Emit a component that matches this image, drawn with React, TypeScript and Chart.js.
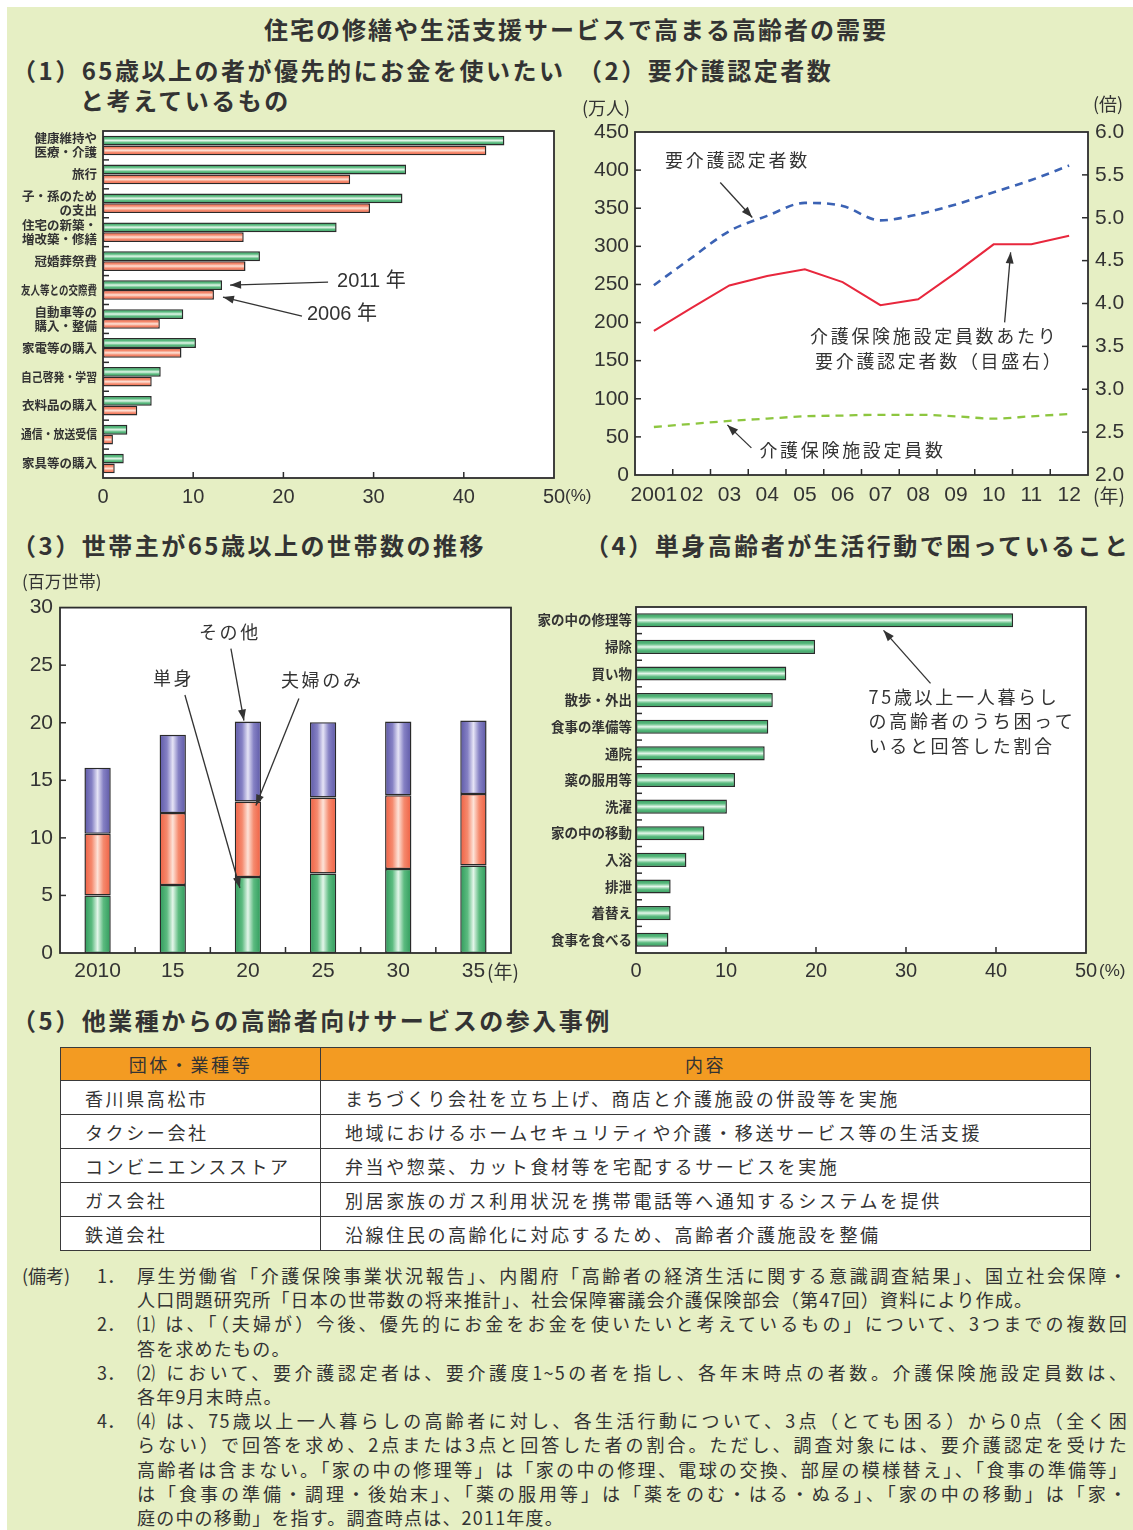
import React, { useEffect, useRef } from "react";
import { Chart, registerables } from "chart.js";
Chart.register(...registerables);

const BG = "#e6efc4";
const INK = "#333333";
const NUM = "'Liberation Sans', 'Noto Sans CJK JP', sans-serif";
const JP = "'Noto Sans CJK JP', sans-serif";

// ---------- (1) ----------
const p1Categories: (string | string[])[] = [
  ["健康維持や", "医療・介護"], "旅行", ["子・孫のため", "の支出"], ["住宅の新築・", "増改築・修繕"],
  "冠婚葬祭費", "友人等との交際費", ["自動車等の", "購入・整備"], "家電等の購入",
  "自己啓発・学習", "衣料品の購入", "通信・放送受信", "家具等の購入",
];
const p1Values2011 = [44.5, 33.6, 33.2, 25.9, 17.4, 13.2, 8.9, 10.3, 6.4, 5.4, 2.7, 2.3];
const p1Values2006 = [42.5, 27.4, 29.6, 15.6, 15.8, 12.3, 6.3, 8.7, 5.4, 3.8, 1.1, 1.3];

// ---------- (2) ----------
const p2Years = ["2001", "02", "03", "04", "05", "06", "07", "08", "09", "10", "11", "12"];
const p2Certified = [249, 285, 320, 340, 357, 353, 334, 342, 355, 371, 387, 406];
const p2Capacity = [63, 67, 71, 74, 77, 78, 79, 79, 77, 74, 77, 80];
const p2Ratio = [3.68, 3.95, 4.21, 4.32, 4.4, 4.25, 3.98, 4.05, 4.36, 4.69, 4.69, 4.79];

// ---------- (3) ----------
const p3Years = ["2010", "15", "20", "25", "30", "35"];
const p3Single = [5.0, 5.9, 6.6, 6.9, 7.3, 7.6];
const p3Couple = [5.35, 6.25, 6.55, 6.6, 6.4, 6.2];
const p3Other = [5.75, 6.8, 6.95, 6.55, 6.4, 6.4];

// ---------- (4) ----------
const p4Categories = [
  "家の中の修理等", "掃除", "買い物", "散歩・外出", "食事の準備等", "通院", "薬の服用等",
  "洗濯", "家の中の移動", "入浴", "排泄", "着替え", "食事を食べる",
];
const p4Values = [41.9, 19.9, 16.7, 15.2, 14.7, 14.3, 11.0, 10.1, 7.6, 5.6, 3.85, 3.85, 3.6];

// ---------- (5) ----------
const tableHeader = ["団体・業種等", "内容"];
const tableOrgs = ["香川県高松市", "タクシー会社", "コンビニエンスストア", "ガス会社", "鉄道会社"];
const tableContents = [
  "まちづくり会社を立ち上げ、商店と介護施設の併設等を実施",
  "地域におけるホームセキュリティや介護・移送サービス等の生活支援",
  "弁当や惣菜、カット食材等を宅配するサービスを実施",
  "別居家族のガス利用状況を携帯電話等へ通知するシステムを提供",
  "沿線住民の高齢化に対応するため、高齢者介護施設を整備",
];

// ---------- notes ----------
const noteItems: string[][] = [
  [
    "厚生労働省「介護保険事業状況報告」、内閣府「高齢者の経済生活に関する意識調査結果」、国立社会保障・",
    "人口問題研究所「日本の世帯数の将来推計」、社会保障審議会介護保険部会（第47回）資料により作成。",
  ],
  [
    "⑴ は、「（夫婦が）今後、優先的にお金をお金を使いたいと考えているもの」について、3つまでの複数回",
    "答を求めたもの。",
  ],
  [
    "⑵ において、要介護認定者は、要介護度1~5の者を指し、各年末時点の者数。介護保険施設定員数は、",
    "各年9月末時点。",
  ],
  [
    "⑷ は、75歳以上一人暮らしの高齢者に対し、各生活行動について、3点（とても困る）から0点（全く困",
    "らない）で回答を求め、2点または3点と回答した者の割合。ただし、調査対象には、要介護認定を受けた",
    "高齢者は含まない。「家の中の修理等」は「家の中の修理、電球の交換、部屋の模様替え」、「食事の準備等」",
    "は「食事の準備・調理・後始末」、「薬の服用等」は「薬をのむ・はる・ぬる」、「家の中の移動」は「家・",
    "庭の中の移動」を指す。調査時点は、2011年度。",
  ],
];

const GREEN = "#3aa865";
const RED = "#f26c4f";
const BLUE = "#6a64ae";
const GREEN_STOPS: [number, string][] = [[0, "#2f9a5b"], [0.28, "#5cbb80"], [0.5, "#e4f6ea"], [0.72, "#5cbb80"], [1, "#2f9a5b"]];
const RED_STOPS: [number, string][] = [[0, "#ef5f42"], [0.28, "#f58a6e"], [0.5, "#fde3d8"], [0.72, "#f58a6e"], [1, "#ef5f42"]];
const BLUE_STOPS: [number, string][] = [[0, "#5d58a6"], [0.28, "#8581c4"], [0.5, "#e6e4f6"], [0.72, "#8581c4"], [1, "#5d58a6"]];

type TickSpec = { scale: string; mode: "between" | "ticks"; side: "left" | "right" | "bottom" };
type CatLabels = { font: string; maxWidth: number; lineGap: number; pad: number };

function arrow(ctx: CanvasRenderingContext2D, x1: number, y1: number, x2: number, y2: number) {
  ctx.save();
  ctx.strokeStyle = "#333";
  ctx.fillStyle = "#333";
  ctx.lineWidth = 1.3;
  ctx.beginPath();
  ctx.moveTo(x1, y1);
  ctx.lineTo(x2, y2);
  ctx.stroke();
  const ang = Math.atan2(y2 - y1, x2 - x1);
  const L = 11, W = 4;
  ctx.beginPath();
  ctx.moveTo(x2, y2);
  ctx.lineTo(x2 - L * Math.cos(ang) + W * Math.sin(ang), y2 - L * Math.sin(ang) - W * Math.cos(ang));
  ctx.lineTo(x2 - L * Math.cos(ang) - W * Math.sin(ang), y2 - L * Math.sin(ang) + W * Math.cos(ang));
  ctx.closePath();
  ctx.fill();
  ctx.restore();
}

function text(ctx: CanvasRenderingContext2D, s: string, x: number, y: number, size = 18, ls = 2.7, family = JP) {
  ctx.save();
  ctx.font = `${size}px ${family}`;
  (ctx as any).letterSpacing = `${ls}px`;
  ctx.fillStyle = INK;
  ctx.textAlign = "left";
  ctx.textBaseline = "middle";
  ctx.fillText(s, x, y);
  ctx.restore();
}

function makePlugins(cfg: {
  ticks: TickSpec[];
  stops?: [number, string][][];
  catLabels?: CatLabels;
  notes?: (chart: any) => void;
}) {
  return [
    {
      id: "plotBg",
      beforeDraw(chart: any) {
        const { ctx, chartArea: a } = chart;
        ctx.save();
        ctx.fillStyle = "#ffffff";
        ctx.fillRect(a.left, a.top, a.right - a.left, a.bottom - a.top);
        ctx.restore();
      },
    },
    {
      id: "gradBars",
      afterDatasetsDraw(chart: any) {
        if (!cfg.stops) return;
        const ctx = chart.ctx;
        const horizontal = chart.options.indexAxis === "y";
        chart.data.datasets.forEach((_ds: any, di: number) => {
          const stops = cfg.stops![di];
          if (!stops) return;
          const meta = chart.getDatasetMeta(di);
          meta.data.forEach((el: any) => {
            const p = el.getProps(["x", "y", "base", "width", "height"], true);
            const bw = 1.5;
            let l, r, t, b;
            if (horizontal) {
              l = Math.min(p.base, p.x); r = Math.max(p.base, p.x);
              t = p.y - p.height / 2; b = p.y + p.height / 2;
            } else {
              l = p.x - p.width / 2; r = p.x + p.width / 2;
              t = Math.min(p.y, p.base); b = Math.max(p.y, p.base);
            }
            if (r - l <= 2 * bw || b - t <= 2 * bw) return;
            const g = horizontal ? ctx.createLinearGradient(0, t, 0, b) : ctx.createLinearGradient(l, 0, r, 0);
            stops.forEach(([o, c]) => g.addColorStop(o, c));
            ctx.save();
            ctx.fillStyle = g;
            ctx.fillRect(l + bw, t + bw, r - l - 2 * bw, b - t - 2 * bw);
            ctx.restore();
          });
        });
      },
    },
    {
      id: "decor",
      afterDraw(chart: any) {
        const { ctx, chartArea: a } = chart;
        ctx.save();
        ctx.strokeStyle = "#2d2d2d";
        ctx.lineWidth = 1.8;
        ctx.strokeRect(a.left, a.top, a.right - a.left, a.bottom - a.top);
        ctx.lineWidth = 1.5;
        const len = 6;
        cfg.ticks.forEach((t) => {
          const s = chart.scales[t.scale];
          const pos: number[] = [];
          if (t.mode === "between") {
            const n = chart.data.labels.length;
            for (let i = 1; i < n; i++) pos.push((s.getPixelForValue(i - 1) + s.getPixelForValue(i)) / 2);
          } else {
            s.ticks.forEach((tk: any) => pos.push(s.getPixelForValue(tk.value)));
          }
          pos.forEach((p) => {
            ctx.beginPath();
            if (t.side === "left") {
              if (Math.abs(p - a.top) < 2 || Math.abs(p - a.bottom) < 2) return;
              ctx.moveTo(a.left, p); ctx.lineTo(a.left + len, p);
            } else if (t.side === "right") {
              if (Math.abs(p - a.top) < 2 || Math.abs(p - a.bottom) < 2) return;
              ctx.moveTo(a.right, p); ctx.lineTo(a.right - len, p);
            } else {
              if (Math.abs(p - a.left) < 2 || Math.abs(p - a.right) < 2) return;
              ctx.moveTo(p, a.bottom); ctx.lineTo(p, a.bottom - len);
            }
            ctx.stroke();
          });
        });
        ctx.restore();
        if (cfg.catLabels) {
          const cl = cfg.catLabels;
          const ys = chart.scales.y;
          ctx.save();
          ctx.font = cl.font;
          ctx.fillStyle = INK;
          ctx.textAlign = "right";
          ctx.textBaseline = "middle";
          (chart.data.labels as any[]).forEach((lab, i) => {
            const cy = ys.getPixelForValue(i);
            const lines: string[] = Array.isArray(lab) ? lab : [lab];
            const off = ((lines.length - 1) * cl.lineGap) / 2;
            lines.forEach((ln, j) => {
              ctx.fillText(ln, a.left - cl.pad, cy - off + j * cl.lineGap, cl.maxWidth);
            });
          });
          ctx.restore();
        }
        if (cfg.notes) cfg.notes(chart);
      },
    },
  ];
}

const gridOff = { display: false, drawTicks: false };
const borderOff = { display: false };

function config1(): any {
  return {
    type: "bar",
    data: {
      labels: p1Categories,
      datasets: [
        { label: "2011年", data: p1Values2011, backgroundColor: GREEN, borderColor: "#2a2a2a", borderWidth: 1.5, borderSkipped: false, barPercentage: 1, categoryPercentage: 0.68 },
        { label: "2006年", data: p1Values2006, backgroundColor: RED, borderColor: "#2a2a2a", borderWidth: 1.5, borderSkipped: false, barPercentage: 1, categoryPercentage: 0.68 },
      ],
    },
    options: {
      indexAxis: "y",
      animation: false,
      responsive: false,
      layout: { padding: { top: 11, right: 46, left: 0, bottom: 0 } },
      plugins: { legend: { display: false }, tooltip: { enabled: false } },
      scales: {
        x: {
          min: 0, max: 50,
          ticks: { stepSize: 10, font: { family: NUM, size: 20 }, color: INK, padding: 7 },
          grid: gridOff, border: borderOff,
          afterFit: (s: any) => { s.height = 32; },
        },
        y: {
          ticks: { display: false },
          grid: gridOff, border: borderOff,
          afterFit: (s: any) => { s.width = 93; },
        },
      },
    },
    plugins: makePlugins({
      ticks: [{ scale: "y", mode: "between", side: "left" }, { scale: "x", mode: "ticks", side: "bottom" }],
      stops: [GREEN_STOPS, RED_STOPS],
      catLabels: { font: `bold 12.5px ${JP}`, maxWidth: 76, lineGap: 14, pad: 6 },
      notes: (chart: any) => {
        const ctx = chart.ctx, xs = chart.scales.x, ys = chart.scales.y;
        const cy = ys.getPixelForValue(5);
        const ax = xs.getPixelForValue(p1Values2011[5]) + 8, ay = cy - 5;
        arrow(ctx, ax + 98, ay - 3, ax, ay);
        text(ctx, "2011 年", ax + 107, ay - 4, 20, 0, NUM);
        const bx = xs.getPixelForValue(p1Values2006[5]) + 9, by = cy + 7;
        arrow(ctx, bx + 79, by + 19, bx, by);
        text(ctx, "2006 年", bx + 84, by + 17, 20, 0, NUM);
      },
    }),
  };
}

function config2(): any {
  return {
    type: "line",
    data: {
      labels: p2Years,
      datasets: [
        { label: "要介護認定者数", data: p2Certified, yAxisID: "y", borderColor: "#3b62b4", borderWidth: 2.6, borderDash: [8, 6], pointRadius: 0, cubicInterpolationMode: "monotone", fill: false },
        { label: "介護保険施設定員数あたり要介護認定者数", data: p2Ratio, yAxisID: "y1", borderColor: "#e8273d", borderWidth: 2, pointRadius: 0, tension: 0, fill: false },
        { label: "介護保険施設定員数", data: p2Capacity, yAxisID: "y", borderColor: "#8dc63f", borderWidth: 2.3, borderDash: [8, 6], pointRadius: 0, cubicInterpolationMode: "monotone", fill: false },
      ],
    },
    options: {
      animation: false,
      responsive: false,
      layout: { padding: { top: 42, right: 0, left: 0, bottom: 0 } },
      plugins: { legend: { display: false }, tooltip: { enabled: false } },
      scales: {
        x: {
          offset: true,
          ticks: { font: { family: NUM, size: 21 }, color: INK, padding: 8, autoSkip: false, maxRotation: 0 },
          grid: { display: false, drawTicks: false, offset: true }, border: borderOff,
          afterFit: (s: any) => { s.height = 35; },
        },
        y: {
          position: "left", min: 0, max: 450,
          ticks: { stepSize: 50, font: { family: NUM, size: 21 }, color: INK, padding: 6 },
          grid: gridOff, border: borderOff,
          afterFit: (s: any) => { s.width = 60; },
        },
        y1: {
          position: "right", min: 2, max: 6,
          ticks: { stepSize: 0.5, font: { family: NUM, size: 21 }, color: INK, padding: 7, callback: (v: any) => Number(v).toFixed(1) },
          grid: gridOff, border: borderOff,
          afterFit: (s: any) => { s.width = 45; },
        },
      },
    },
    plugins: makePlugins({
      ticks: [
        { scale: "x", mode: "between", side: "bottom" },
        { scale: "y", mode: "ticks", side: "left" },
        { scale: "y1", mode: "ticks", side: "right" },
      ],
      notes: (chart: any) => {
        const ctx = chart.ctx, xs = chart.scales.x, yl = chart.scales.y, yr = chart.scales.y1, a = chart.chartArea;
        text(ctx, "要介護認定者数", a.left + 30, a.top + 28);
        const t1x = (xs.getPixelForValue(2) + xs.getPixelForValue(3)) / 2 + 4;
        const t1y = yl.getPixelForValue((p2Certified[2] + p2Certified[3]) / 2) - 6;
        arrow(ctx, t1x - 32, t1y - 35, t1x, t1y);

        text(ctx, "介護保険施設定員数あたり", a.left + 175, a.top + 204);
        text(ctx, "要介護認定者数（目盛右）", a.left + 180, a.top + 229);
        const t2x = xs.getPixelForValue(9) + 17, t2y = yr.getPixelForValue(p2Ratio[9]) + 8;
        arrow(ctx, t2x - 6, t2y + 70, t2x, t2y);

        const t3x = xs.getPixelForValue(2) - 2, t3y = yl.getPixelForValue(p2Capacity[2]) + 4;
        arrow(ctx, t3x + 24, t3y + 23, t3x, t3y);
        text(ctx, "介護保険施設定員数", t3x + 32, t3y + 25);
      },
    }),
  };
}

function config3(): any {
  const common = { borderColor: "#2a2a2a", borderWidth: 1.5, borderSkipped: false, barPercentage: 0.35, categoryPercentage: 1 };
  return {
    type: "bar",
    data: {
      labels: p3Years,
      datasets: [
        { label: "単身", data: p3Single, backgroundColor: GREEN, ...common },
        { label: "夫婦のみ", data: p3Couple, backgroundColor: RED, ...common },
        { label: "その他", data: p3Other, backgroundColor: BLUE, ...common },
      ],
    },
    options: {
      animation: false,
      responsive: false,
      layout: { padding: { top: 0, right: 19, left: 0, bottom: 0 } },
      plugins: { legend: { display: false }, tooltip: { enabled: false } },
      scales: {
        x: {
          stacked: true,
          ticks: { font: { family: NUM, size: 21 }, color: INK, padding: 6, autoSkip: false, maxRotation: 0 },
          grid: gridOff, border: borderOff,
          afterFit: (s: any) => { s.height = 37; },
        },
        y: {
          stacked: true, min: 0, max: 30,
          ticks: { stepSize: 5, font: { family: NUM, size: 21 }, color: INK, padding: 7 },
          grid: gridOff, border: borderOff,
          afterFit: (s: any) => { s.width = 50; },
        },
      },
    },
    plugins: makePlugins({
      ticks: [{ scale: "x", mode: "between", side: "bottom" }, { scale: "y", mode: "ticks", side: "left" }],
      stops: [GREEN_STOPS, RED_STOPS, BLUE_STOPS],
      notes: (chart: any) => {
        const ctx = chart.ctx, xs = chart.scales.x, ys = chart.scales.y;
        const x2 = xs.getPixelForValue(2);
        const total = p3Single[2] + p3Couple[2] + p3Other[2];
        const ox = x2 - 4, oy = ys.getPixelForValue(total) - 1;
        arrow(ctx, ox - 13, oy - 72, ox, oy);
        text(ctx, "その他", ox - 45, oy - 88);
        const sx = x2 - 8, sy = ys.getPixelForValue(p3Single[2]) + 11;
        arrow(ctx, sx - 55, sy - 193, sx, sy);
        text(ctx, "単身", sx - 87, sy - 210);
        const cx = x2 + 8, cy = ys.getPixelForValue(p3Single[2] + p3Couple[2]) + 4;
        arrow(ctx, cx + 43, cy - 107, cx, cy);
        text(ctx, "夫婦のみ", cx + 25, cy - 125);
      },
    }),
  };
}

function config4(): any {
  return {
    type: "bar",
    data: {
      labels: p4Categories,
      datasets: [
        { label: "困っている割合", data: p4Values, backgroundColor: GREEN, borderColor: "#2a2a2a", borderWidth: 1.5, borderSkipped: false, barPercentage: 0.53, categoryPercentage: 1 },
      ],
    },
    options: {
      indexAxis: "y",
      animation: false,
      responsive: false,
      layout: { padding: { top: 12, right: 47, left: 0, bottom: 0 } },
      plugins: { legend: { display: false }, tooltip: { enabled: false } },
      scales: {
        x: {
          min: 0, max: 50,
          ticks: { stepSize: 10, font: { family: NUM, size: 20 }, color: INK, padding: 6 },
          grid: gridOff, border: borderOff,
          afterFit: (s: any) => { s.height = 37; },
        },
        y: {
          ticks: { display: false },
          grid: gridOff, border: borderOff,
          afterFit: (s: any) => { s.width = 106; },
        },
      },
    },
    plugins: makePlugins({
      ticks: [{ scale: "y", mode: "between", side: "left" }, { scale: "x", mode: "ticks", side: "bottom" }],
      stops: [GREEN_STOPS],
      catLabels: { font: `bold 13.5px ${JP}`, maxWidth: 100, lineGap: 14, pad: 4 },
      notes: (chart: any) => {
        const ctx = chart.ctx, xs = chart.scales.x, ys = chart.scales.y;
        const tx = xs.getPixelForValue(27.5), ty = ys.getPixelForValue(0) + 10;
        arrow(ctx, tx + 47, ty + 53, tx, ty);
        text(ctx, "75歳以上一人暮らし", tx - 15, ty + 67);
        text(ctx, "の高齢者のうち困って", tx - 15, ty + 91);
        text(ctx, "いると回答した割合", tx - 15, ty + 116);
      },
    }),
  };
}

function ChartBox({ left, top, width, height, make }: { left: number; top: number; width: number; height: number; make: () => any }) {
  const ref = useRef<HTMLCanvasElement>(null);
  useEffect(() => {
    const c = new Chart(ref.current as HTMLCanvasElement, make());
    return () => c.destroy();
  }, []);
  return (
    <div style={{ position: "absolute", left, top, width, height }}>
      <canvas ref={ref} width={width} height={height} style={{ width, height, display: "block" }} />
    </div>
  );
}

function Txt({ x, cy, size, bold = false, ls = 0, family = JP, children }: { x: number; cy: number; size: number; bold?: boolean; ls?: number; family?: string; children: React.ReactNode }) {
  return (
    <div style={{ position: "absolute", left: x, top: cy - size / 2, fontSize: size, lineHeight: `${size}px`, fontWeight: bold ? 700 : 400, letterSpacing: `${ls}px`, whiteSpace: "nowrap", fontFamily: family, color: INK }}>
      {children}
    </div>
  );
}

export default function App() {
  const cell: React.CSSProperties = { border: "1.5px solid #3a3a3a", padding: "0 0 0 24px", height: 33, textAlign: "left", fontWeight: 400, background: "#ffffff", whiteSpace: "nowrap" };
  const head: React.CSSProperties = { ...cell, background: "#f39b22", textAlign: "center", padding: 0, height: 32 };
  let lineNo = 0;
  return (
    <div lang="ja" style={{ position: "absolute", left: 0, top: 0, width: 1133, height: 1530, background: "#ffffff", overflow: "hidden", fontFamily: JP, color: INK }}>
      <div style={{ position: "absolute", left: 7, top: 7, width: 1126, height: 1523, background: BG }} />

      <div style={{ position: "absolute", left: 176, top: 17, width: 800, textAlign: "center", fontSize: 24, lineHeight: "24px", fontWeight: 700, letterSpacing: "2px", color: INK, whiteSpace: "nowrap" }}>
        住宅の修繕や生活支援サービスで高まる高齢者の需要
      </div>

      <Txt x={12} cy={70} size={24} bold ls={2.5}>（1）65歳以上の者が優先的にお金を使いたい</Txt>
      <Txt x={80} cy={100} size={24} bold ls={2.5}>と考えているもの</Txt>
      <Txt x={578} cy={70} size={24} bold ls={2.5}>（2）要介護認定者数</Txt>
      <Txt x={12} cy={545} size={24} bold ls={2.5}>（3）世帯主が65歳以上の世帯数の推移</Txt>
      <Txt x={585} cy={545} size={24} bold ls={2.5}>（4）単身高齢者が生活行動で困っていること</Txt>
      <Txt x={12} cy={1020} size={24} bold ls={2.5}>（5）他業種からの高齢者向けサービスの参入事例</Txt>

      <ChartBox left={10} top={120} width={590} height={390} make={config1} />
      <Txt x={565} cy={495} size={17} family={NUM}>(%)</Txt>

      <ChartBox left={575} top={90} width={558} height={420} make={config2} />
      <Txt x={582} cy={107} size={18}>(万人)</Txt>
      <Txt x={1093} cy={103} size={18}>(倍)</Txt>
      <Txt x={1093} cy={494} size={19}>(年)</Txt>

      <ChartBox left={10} top={588} width={520} height={402} make={config3} />
      <Txt x={22} cy={580} size={17}>(百万世帯)</Txt>
      <Txt x={487} cy={970} size={19}>(年)</Txt>

      <ChartBox left={530} top={595} width={603} height={395} make={config4} />
      <Txt x={1099} cy={970} size={17} family={NUM}>(%)</Txt>

      <div style={{ position: "absolute", left: 60, top: 1047 }}>
        <table style={{ borderCollapse: "collapse", width: 1030, tableLayout: "fixed", fontFamily: JP, fontSize: 18, letterSpacing: "2.6px", color: INK }}>
          <colgroup>
            <col style={{ width: 260 }} />
            <col style={{ width: 770 }} />
          </colgroup>
          <thead>
            <tr>
              <th style={head}>{tableHeader[0]}</th>
              <th style={head}>{tableHeader[1]}</th>
            </tr>
          </thead>
          <tbody>
            {tableOrgs.map((org, i) => (
              <tr key={i}>
                <td style={cell}>{org}</td>
                <td style={cell}>{tableContents[i]}</td>
              </tr>
            ))}
          </tbody>
        </table>
      </div>

      <Txt x={22} cy={1275} size={18}>(備考)</Txt>
      {noteItems.map((item, k) => (
        <React.Fragment key={k}>
          <Txt x={97} cy={1275 + 24.2 * lineNo} size={18}>{`${k + 1}．`}</Txt>
          {item.map((ln, j) => {
            const cy = 1275 + 24.2 * lineNo++;
            const full = j < item.length - 1;
            return (
              <div key={j} style={{ position: "absolute", left: 137, top: cy - 9, width: 991, fontSize: 18, lineHeight: "18px", letterSpacing: "1.2px", textAlign: full ? "justify" : "left", textAlignLast: full ? "justify" : "auto", color: INK } as React.CSSProperties}>
                {ln}
              </div>
            );
          })}
        </React.Fragment>
      ))}
    </div>
  );
}
